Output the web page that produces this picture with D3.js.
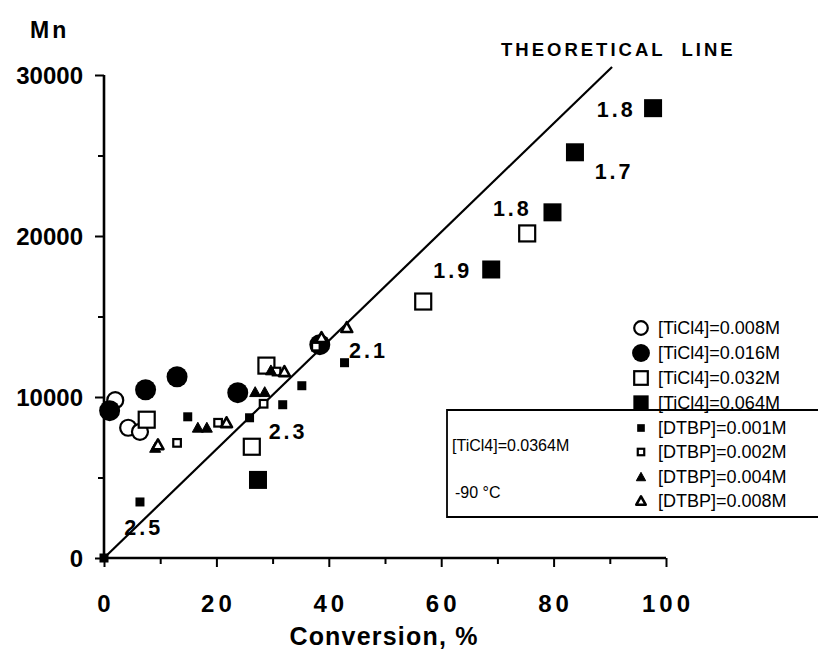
<!DOCTYPE html>
<html><head><meta charset="utf-8">
<script src="https://cdn.jsdelivr.net/npm/d3@7"></script>
<style>body{margin:0;background:#fff}svg{display:block}</style>
</head><body>
<svg id="c" width="818" height="650"></svg>
<script>
// ---- data ----
const xTicks = [0,20,40,60,80,100];
const yTicks = [0,10000,20000,30000];
const theoLine = [[0,0],[90.4,30500]];
const ti008 = [[2.0,9800],[4.3,8090],[6.4,7840]];
const ti016 = [[1.0,9150],[7.4,10450],[13.0,11260],[23.8,10270],[38.4,13250]];
const ti032 = [[7.6,8590],[26.3,6910],[28.9,11950],[56.8,15930],[75.3,20160]];
const ti064 = [[27.4,4850],[68.9,17920],[79.8,21470],[83.8,25200],[97.7,27940]];
const dtbp001 = [[0,0],[6.4,3480],[14.9,8770],[25.9,8710],[31.8,9520],[35.2,10700],[42.8,12130]];
const dtbp002 = [[13.0,7150],[20.3,8400],[28.4,9580],[30.7,11580],[37.7,13130]];
const dtbp004 = [[9.1,6840],[16.7,8090],[18.3,8090],[26.9,10300],[28.6,10300],[29.7,11650]];
const dtbp008 = [[9.6,7030],[21.8,8400],[32.1,11570],[38.7,13690],[43.2,14310]];
const ratioLabels = [
  {x:58.6,y:17400,t:"1.9"},{x:69.2,y:21250,t:"1.8"},{x:87.3,y:23550,t:"1.7"},
  {x:87.7,y:27400,t:"1.8"},{x:43.6,y:12450,t:"2.1"},{x:29.3,y:7400,t:"2.3"},{x:3.6,y:1450,t:"2.5"}
];
const legendNames = ["[TiCl4]=0.008M","[TiCl4]=0.016M","[TiCl4]=0.032M","[TiCl4]=0.064M",
  "[DTBP]=0.001M","[DTBP]=0.002M","[DTBP]=0.004M","[DTBP]=0.008M"];
const legendKinds = ["ocirc","fcirc","osq","fsq","fsmall","osmall","ftri","otri"];
const boxTexts = ["[TiCl4]=0.0364M","-90 °C"];

// ---- drawing ----
const svg = d3.select("#c");
const x = d3.scaleLinear().domain([0,100]).range([104,666]);
const y = d3.scaleLinear().domain([0,30000]).range([558,75]);
const FONT = "'Liberation Sans', Arial, Helvetica, sans-serif";

function marker(g, kind, cx, cy, scale){
  const s = scale||1;
  if(kind==="ocirc") g.append("circle").attr("cx",cx).attr("cy",cy).attr("r",8*s).attr("fill","#fff").attr("stroke","#000").attr("stroke-width",2.2);
  else if(kind==="fcirc") g.append("circle").attr("cx",cx).attr("cy",cy).attr("r",10.5*s).attr("fill","#000");
  else if(kind==="osq"){const h=8*s; g.append("rect").attr("x",cx-h).attr("y",cy-h).attr("width",2*h).attr("height",2*h).attr("fill","#fff").attr("stroke","#000").attr("stroke-width",2.2);}
  else if(kind==="fsq"){const h=9*s; g.append("rect").attr("x",cx-h).attr("y",cy-h).attr("width",2*h).attr("height",2*h).attr("fill","#000");}
  else if(kind==="fsmall"){const h=4.5*s; g.append("rect").attr("x",cx-h).attr("y",cy-h).attr("width",2*h).attr("height",2*h).attr("fill","#000");}
  else if(kind==="osmall"){const h=3.8*s; g.append("rect").attr("x",cx-h).attr("y",cy-h).attr("width",2*h).attr("height",2*h).attr("fill","#fff").attr("stroke","#000").attr("stroke-width",2.2);}
  else if(kind==="ftri"||kind==="otri"){
    const r=5.5*s;
    const p = d3.path(); p.moveTo(cx,cy-r); p.lineTo(cx+r,cy+r*0.8); p.lineTo(cx-r,cy+r*0.8); p.closePath();
    g.append("path").attr("d",p.toString()).attr("fill",kind==="ftri"?"#000":"#fff").attr("stroke","#000").attr("stroke-width",kind==="ftri"?1:2.6).attr("stroke-linejoin","round");
  }
}

// axes
const xAxis = d3.axisBottom(x).tickValues(d3.range(0,101,10)).tickSize(9).tickFormat("");
const gx = svg.append("g").attr("transform","translate(0,558)").call(xAxis);
gx.select(".domain").attr("stroke-width",2.6).attr("d","M104,0H666");
gx.selectAll(".tick line").attr("stroke-width",2).attr("y2",d=>d%20===0?9:6);
gx.selectAll(".xl").data(xTicks).enter().append("text")
  .attr("x",d=>x(d)+2).attr("y",54).attr("text-anchor","middle")
  .attr("font-family",FONT).attr("font-weight","bold").attr("font-size",24).attr("letter-spacing",4)
  .attr("fill","#000").text(d=>d);

const yAxis = d3.axisLeft(y).tickValues(d3.range(0,30001,5000)).tickSize(8).tickFormat("");
const gy = svg.append("g").attr("transform","translate(104,0)").call(yAxis);
gy.select(".domain").attr("stroke-width",2.6).attr("d","M0,558V75");
gy.selectAll(".tick line").attr("stroke-width",2).attr("x2",d=>d%10000===0?-9:-6);
gy.selectAll(".yl").data(yTicks).enter().append("text")
  .attr("x",-21).attr("y",d=>y(d)+9).attr("text-anchor","end")
  .attr("font-family",FONT).attr("font-weight","bold").attr("font-size",24)
  .attr("fill","#000").text(d=>d);

svg.append("text").attr("x",30).attr("y",38).attr("font-family",FONT).attr("font-weight","bold").attr("font-size",23).attr("letter-spacing",3).text("Mn");
svg.append("text").attr("x",384).attr("y",645).attr("text-anchor","middle").attr("font-family",FONT).attr("font-weight","bold").attr("font-size",25).attr("letter-spacing",1.2).text("Conversion, %");

// theoretical line
svg.append("path").datum(theoLine).attr("d",d3.line().x(d=>x(d[0])).y(d=>y(d[1])))
  .attr("stroke","#000").attr("stroke-width",2.2).attr("fill","none");
svg.append("text").attr("x",501).attr("y",56).attr("font-family",FONT).attr("font-weight","bold")
  .attr("font-size",18.5).attr("letter-spacing",3).style("white-space","pre").text("THEORETICAL  LINE");

// points
const pts = svg.append("g");
const seriesList = [[ti008,"ocirc"],[ti016,"fcirc"],[ti032,"osq"],[ti064,"fsq"],[dtbp001,"fsmall"],[dtbp002,"osmall"],[dtbp004,"ftri"],[dtbp008,"otri"]];
seriesList.forEach(([arr,k])=>arr.forEach(d=>marker(pts,k,x(d[0]),y(d[1]),1)));

// ratio labels
svg.selectAll(".rl").data(ratioLabels).enter().append("text")
  .attr("x",d=>x(d.x)).attr("y",d=>y(d.y)).attr("font-family",FONT).attr("font-weight","bold")
  .attr("font-size",21.5).attr("letter-spacing",3).text(d=>d.t);

// box
svg.append("path").attr("d","M818,410H447V517H818").attr("fill","none").attr("stroke","#000").attr("stroke-width",1.8);
svg.append("text").attr("x",452).attr("y",451).attr("font-family",FONT).attr("font-size",16).text(boxTexts[0]);
svg.append("text").attr("x",455).attr("y",498).attr("font-family",FONT).attr("font-size",16).text(boxTexts[1]);

// legend
const lg = svg.append("g");
const rowY = [328,353,378,403,428,452,477,501];
legendNames.forEach((n,i)=>{
  marker(lg,legendKinds[i],641,rowY[i],0.85);
  lg.append("text").attr("x",658).attr("y",rowY[i]+6).attr("font-family",FONT).attr("font-size",18).text(n);
});
</script>
</body></html>
